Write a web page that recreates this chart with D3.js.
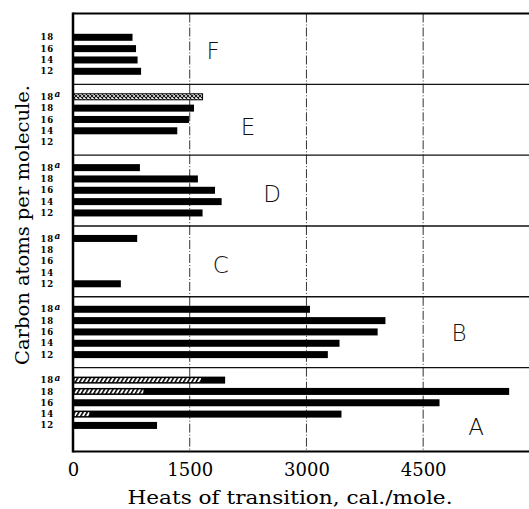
<!DOCTYPE html>
<html>
<head>
<meta charset="utf-8">
<script src="https://cdn.jsdelivr.net/npm/d3@7"></script>
<style>
  body { margin: 0; background: #fff; }
  svg { display: block; }
</style>
</head>
<body>
<svg width="529" height="509"></svg>
<script>
(function (d3) {
  'use strict'

  // six groups of compounds, top to bottom
  const panelNames = ['F', 'E', 'D', 'C', 'B', 'A']
  const carbonRows = ['18a', '18', '16', '14', '12']

  // heats of transition, cal./mole (null = no bar)
  const heatF = [null, 765, 810, 830, 875]
  const heatE = [1665, 1555, 1490, 1340, null]
  const heatD = [860, 1605, 1825, 1910, 1665]
  const heatC = [825, null, null, null, 615]
  const heatB = [3045, 4015, 3915, 3425, 3275]
  const heatA = [1955, 5605, 4710, 3450, 1080]

  // part of the A bars that is hatched
  const hatchA = [1645, 905, null, 210, null]
  // cross-hatched bar in E
  const crossE = [1665, null, null, null, null]

  const xTicks = [0, 1500, 3000, 4500]

  const heats = [heatF, heatE, heatD, heatC, heatB, heatA]
  const hatches = [[], [], [], [], [], hatchA]
  const crosses = [[], crossE, [], [], [], []]

  // layout only: panel heights in row units, where the letters sit
  const panelSpan = [6.25, 6.25, 6.25, 6.25, 6.25, 7.4]
  const letterAt = [[1800, 2.2], [2250, 2.6], [2560, 2.3], [1900, 2.3], [4960, 2.1], [5180, 4.1]]

  const starts = []
  panelSpan.reduce(function (acc, s) { starts.push(acc); return acc + s }, 0)
  const total = d3.sum(panelSpan)

  const svg = d3.select('svg')
  const x = d3.scaleLinear().domain([0, 5860]).range([73, 529])
  const y = d3.scaleLinear().domain([0, total]).range([13.5, 451.5])
  const rowY = function (p, i) { return y(starts[p] + 1.1 + i) }

  const defs = svg.append('defs')
  const diag = defs.append('pattern').attr('id', 'diag')
    .attr('patternUnits', 'userSpaceOnUse').attr('width', 3.6).attr('height', 8)
    .attr('patternTransform', 'rotate(30)')
  diag.append('rect').attr('width', 3.6).attr('height', 8).attr('fill', '#fff')
  diag.append('rect').attr('width', 1.6).attr('height', 8).attr('fill', '#000')

  const cross = defs.append('pattern').attr('id', 'cross')
    .attr('patternUnits', 'userSpaceOnUse').attr('width', 4).attr('height', 4)
  cross.append('rect').attr('width', 4).attr('height', 4).attr('fill', '#fff')
  cross.append('path').attr('d', 'M0,0L4,4M4,0L0,4').attr('stroke', '#111').attr('stroke-width', 1.1)

  // dash-dot verticals in every panel
  panelNames.forEach(function (name, p) {
    svg.append('g').selectAll('line')
      .data(xTicks.slice(1))
      .enter().append('line')
      .attr('x1', function (d) { return x(d) }).attr('x2', function (d) { return x(d) })
      .attr('y1', y(starts[p])).attr('y2', y(starts[p] + panelSpan[p]))
      .attr('stroke', '#333').attr('stroke-width', 1)
      .attr('stroke-dasharray', '9,2,1,2')
  })

  // panel separators
  svg.append('g').selectAll('line')
    .data(starts.slice(1))
    .enter().append('line')
    .attr('x1', x(0)).attr('x2', 529)
    .attr('y1', function (d) { return y(d) }).attr('y2', function (d) { return y(d) })
    .attr('stroke', '#111').attr('stroke-width', 1.4)

  // bars
  panelNames.forEach(function (name, p) {
    const g = svg.append('g').attr('class', 'panel-' + name)
    const rows = heats[p].map(function (v, i) {
      return { v: v, h: hatches[p][i], c: crosses[p][i], i: i }
    })

    g.selectAll('rect.bar')
      .data(rows.filter(function (d) { return d.v != null && d.c == null }))
      .enter().append('rect')
      .attr('class', 'bar')
      .attr('x', x(0))
      .attr('y', function (d) { return rowY(p, d.i) - 3.5 })
      .attr('width', function (d) { return x(d.v) - x(0) })
      .attr('height', 7)
      .attr('fill', '#000')

    g.selectAll('rect.hatch')
      .data(rows.filter(function (d) { return d.h != null }))
      .enter().append('rect')
      .attr('class', 'hatch')
      .attr('x', x(0) + 1.5)
      .attr('y', function (d) { return rowY(p, d.i) - 2 })
      .attr('width', function (d) { return x(d.h) - x(0) - 1.5 })
      .attr('height', 4)
      .attr('fill', 'url(#diag)')

    g.selectAll('rect.cross')
      .data(rows.filter(function (d) { return d.c != null }))
      .enter().append('rect')
      .attr('class', 'cross')
      .attr('x', x(0) + 0.5)
      .attr('y', function (d) { return rowY(p, d.i) - 3 })
      .attr('width', function (d) { return x(d.c) - x(0) - 0.5 })
      .attr('height', 6)
      .attr('fill', 'url(#cross)')
      .attr('stroke', '#000').attr('stroke-width', 1)

    // row labels (F has no 18a row)
    const labels = carbonRows.map(function (r, i) { return { r: r, i: i } })
      .filter(function (d) { return !(name === 'F' && d.r === '18a') })
    const lab = g.selectAll('g.lab').data(labels).enter().append('g')
      .attr('transform', function (d) { return 'translate(54,' + rowY(p, d.i) + ')' })
    lab.append('text')
      .attr('text-anchor', 'end')
      .attr('dy', '0.36em')
      .style('font-family', 'DejaVu Serif, serif')
      .style('font-weight', 'bold')
      .style('font-size', '8.5px')
      .style('letter-spacing', '0.8px')
      .text(function (d) { return d.r.replace('a', '') })
    lab.filter(function (d) { return d.r === '18a' }).append('text')
      .attr('x', 0.5).attr('dy', '0.05em')
      .style('font-family', 'DejaVu Serif, serif')
      .style('font-style', 'italic')
      .style('font-weight', 'bold')
      .style('font-size', '9px')
      .text('a')

    g.append('text')
      .attr('x', x(letterAt[p][0]))
      .attr('y', y(starts[p] + 1.1 + letterAt[p][1]))
      .attr('dy', '0.36em')
      .attr('text-anchor', 'middle')
      .attr('fill', '#111')
      .style('font-family', 'DejaVu Sans, sans-serif')
      .style('font-weight', 200)
      .style('font-size', '23px')
      .text(name)
  })

  // frame
  svg.append('line').attr('x1', x(0)).attr('x2', 529).attr('y1', y(0)).attr('y2', y(0))
    .attr('stroke', '#000').attr('stroke-width', 2)
  svg.append('line').attr('x1', x(0)).attr('x2', 529).attr('y1', y(total)).attr('y2', y(total))
    .attr('stroke', '#000').attr('stroke-width', 2)
  svg.append('line').attr('x1', x(0)).attr('x2', x(0)).attr('y1', y(0) - 1).attr('y2', y(total) + 1)
    .attr('stroke', '#000').attr('stroke-width', 2.5)

  // x axis labels
  const ax = svg.append('g')
    .attr('transform', 'translate(0,' + y(total) + ')')
    .call(d3.axisBottom(x).tickValues(xTicks).tickFormat(d3.format('d')).tickSize(0).tickPadding(12))
  ax.select('.domain').remove()
  ax.selectAll('text')
    .style('font-family', 'DejaVu Serif, serif')
    .style('font-size', '18px')
    .attr('fill', '#000')

  svg.append('text')
    .attr('x', 290).attr('y', 504)
    .attr('text-anchor', 'middle')
    .attr('textLength', 325)
    .attr('lengthAdjust', 'spacingAndGlyphs')
    .style('font-family', 'DejaVu Serif, serif')
    .style('font-size', '18px')
    .text('Heats of transition, cal./mole.')

  svg.append('text')
    .attr('transform', 'translate(29,225) rotate(-90)')
    .attr('text-anchor', 'middle')
    .attr('textLength', 280)
    .attr('lengthAdjust', 'spacingAndGlyphs')
    .style('font-family', 'DejaVu Serif, serif')
    .style('font-size', '19px')
    .text('Carbon atoms per molecule.')
}(d3))
</script>
</body>
</html>
